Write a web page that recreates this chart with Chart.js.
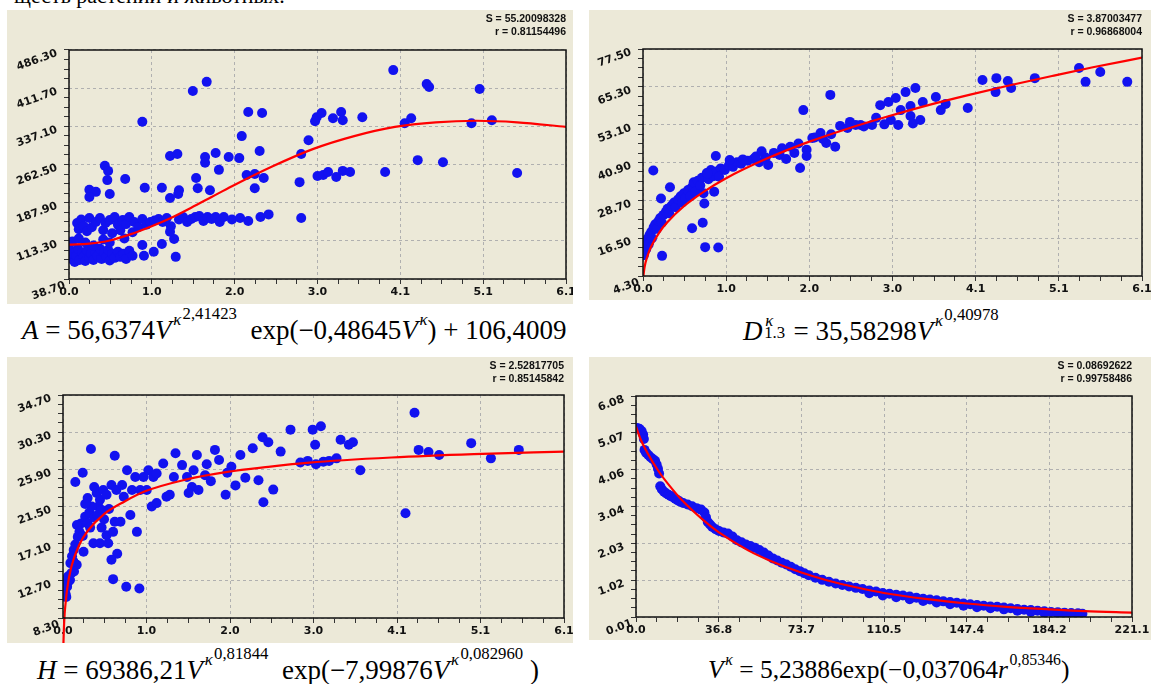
<!DOCTYPE html>
<html>
<head>
<meta charset="utf-8">
<script src="https://cdn.jsdelivr.net/npm/chart.js@4.4.1/dist/chart.umd.min.js"></script>
<style>
  body { margin: 0; width: 1152px; height: 684px; background: #fff; position: relative; overflow: hidden; }
  .panel { position: absolute; background: #ece9d8; }
  .panel canvas { position: absolute; left: 0; top: 0; }
  .stat { position: absolute; top: 2px; text-align: right; font: bold 10.5px/13px 'Liberation Sans', Arial, sans-serif; color: #111; }
  .eq { position: absolute; white-space: nowrap; font: 27px/27px 'Liberation Serif', 'Times New Roman', serif; color: #000; }
  .eq .sp { font-size: 62%; position: relative; top: -0.85em; margin-left: 0.1em; }
  .eq .sp2 { position: relative; top: -0.35em; margin-left: 0.08em; }
  .eq .ss { display: inline-block; position: relative; width: 0.9em; height: 1em; }
  .eq .ss .u { position: absolute; left: 0.16em; top: -0.02em; font-size: 62%; line-height: 1; }
  .eq .ss .d { position: absolute; left: 0.1em; top: 0.72em; font-size: 62%; line-height: 1; }
  #topline { position: absolute; left: 14px; top: -16px; font: 22px/24px 'Liberation Serif', 'Times New Roman', serif; color: #000; white-space: nowrap; }
</style>
</head>
<body>
<div id="topline">щесть растений и животных.</div>

<div class="panel" style="left:7px;top:10px;width:566px;height:294px">
  <canvas id="cA" width="566" height="294"></canvas>
  <div class="stat" style="right:7px"><div>S = 55.20098328</div><div>r = 0.81154496</div></div>
</div>
<div class="panel" style="left:589px;top:10px;width:562px;height:290px">
  <canvas id="cB" width="562" height="290"></canvas>
  <div class="stat" style="right:9px"><div>S = 3.87003477</div><div>r = 0.96868004</div></div>
</div>
<div class="panel" style="left:7px;top:357px;width:566px;height:286px">
  <canvas id="cC" width="566" height="286"></canvas>
  <div class="stat" style="right:9px"><div>S = 2.52817705</div><div>r = 0.85145842</div></div>
</div>
<div class="panel" style="left:589px;top:357px;width:562px;height:283px">
  <canvas id="cD" width="562" height="283"></canvas>
  <div class="stat" style="right:19px"><div>S = 0.08692622</div><div>r = 0.99758486</div></div>
</div>

<div class="eq" style="left:22px;top:317px"><i>A</i> = 56,6374<i>V</i><span class="sp"><i>κ</i><span class="sp2">2,41423</span></span>&nbsp; exp(−0,48645<i>V</i><span class="sp"><i>κ</i></span>) + 106,4009</div>
<div class="eq" style="left:743px;top:313px"><i>D</i><span class="ss"><i class="u">κ</i><span class="d">1.3</span></span> = 35,58298<i>V</i><span class="sp"><i>κ</i><span class="sp2">0,40978</span></span></div>
<div class="eq" style="left:37px;top:657px"><i>H</i> = 69386,21<i>V</i><span class="sp"><i>κ</i><span class="sp2">0,81844</span></span>&nbsp; exp(−7,99876<i>V</i><span class="sp"><i>κ</i><span class="sp2">0,082960</span></span>&nbsp;)</div>
<div class="eq" style="left:708px;top:656px;font-size:25.5px"><i>V</i><span class="sp"><i>κ</i></span> = 5,23886exp(−0,037064<i>r</i><span class="sp">0,85346</span>)</div>

<script>
// оси: подписи делений
const xTicksA = ['0.0', '1.0', '2.0', '3.0', '4.1', '5.1', '6.1'];
const yTicksA = ['38.70', '113.30', '187.90', '262.50', '337.10', '411.70', '486.30'];
const xTicksB = ['0.0', '1.0', '2.0', '3.0', '4.1', '5.1', '6.1'];
const yTicksB = ['4.30', '16.50', '28.70', '40.90', '53.10', '65.30', '77.50'];
const xTicksC = ['0.0', '1.0', '2.0', '3.0', '4.1', '5.1', '6.1'];
const yTicksC = ['8.30', '12.70', '17.10', '21.50', '25.90', '30.30', '34.70'];
const xTicksD = ['0.0', '36.8', '73.7', '110.5', '147.4', '184.2', '221.1'];
const yTicksD = ['0.01', '1.02', '2.03', '3.04', '4.06', '5.07', '6.08'];

// A(V) — точки
const pointsA = [
  [0.02,95],[0.03,78],[0.05,88],[0.07,72],[0.09,84],[0.11,98],[0.13,76],[0.16,90],[0.18,82],[0.2,74],
  [0.22,94],[0.25,80],[0.27,88],[0.3,76],[0.32,92],[0.35,84],[0.38,98],[0.4,78],[0.43,90],[0.46,82],
  [0.48,96],[0.5,75],[0.53,88],[0.56,80],[0.6,92],[0.63,82],[0.67,88],[0.7,78],[0.74,94],[0.78,84],
  [0.92,84],[1.04,92],[1.14,107],[1.31,82],
  [0.04,112],[0.12,118],[0.2,110],[0.3,104],[0.42,116],[0.5,110],[0.68,118],[0.9,105],[1.29,117],[1.24,131],
  [0.1,148],[0.12,136],[0.15,155],[0.18,142],[0.22,132],[0.25,158],[0.28,140],[0.33,150],[0.38,158],[0.42,134],
  [0.45,148],[0.5,154],[0.53,128],[0.56,160],[0.6,145],[0.63,134],[0.66,154],[0.7,146],[0.74,160],[0.78,130],
  [0.8,150],[0.85,140],[0.9,156],[0.95,145],[1.0,150],[1.05,153],[1.1,156],[1.15,150],[1.2,158],[1.25,142],
  [1.35,155],[1.4,160],[1.45,150],[1.5,156],[1.55,160],[1.6,162],[1.65,152],[1.7,160],[1.75,156],[1.8,160],
  [1.85,150],[1.9,160],[2.0,155],[2.1,158],[2.2,152],[2.35,160],[2.45,165],
  [0.9,346],[1.24,279],[0.44,260],[0.48,250],[0.47,232],[0.69,234],[0.25,213],[0.33,209],[0.25,199],[0.5,205],
  [0.93,217],[1.14,217],[1.24,197],[1.34,205],[1.56,236],
  [1.69,424],[1.52,406],[2.2,365],[2.37,363],[2.12,318],[2.34,289],[1.67,277],[1.8,285],[1.96,277],[2.09,275],
  [1.33,283],[1.67,266],[1.84,252],[2.18,242],[2.28,244],[1.58,216],[1.35,212],[1.73,212],[2.28,216],[2.39,236],
  [2.83,228],[2.85,283],[2.85,158],[2.94,310],
  [3.04,355],[3.1,363],[3.02,347],[3.24,353],[3.36,349],[3.34,365],[3.6,355],[3.05,240],[3.12,242],[3.18,248],
  [3.28,238],[3.36,250],[3.45,248],[3.88,248],[3.98,447],[4.12,343],[4.28,271],[4.39,420],[4.42,414],[4.2,353],
  [4.59,267],[4.94,343],[5.04,410],[5.19,349],[5.5,246]
];
// A(V) — кривая
const curveA = [
  [0,106],[0.25,108],[0.5,114],[0.75,126],[1,141],[1.25,158],[1.5,178],[1.75,199],[2,220],[2.5,259],
  [3,293],[3.5,318],[4,336],[4.5,345],[5,348],[5.5,345],[6.1,336]
];

// D1.3(V)
const pointsB = [
  [0.01,11],[0.02,12.5],[0.03,14],[0.04,13],[0.05,15.5],[0.06,16.5],[0.07,14.5],[0.08,17.5],[0.1,18.5],[0.11,16.5],
  [0.13,20],[0.15,21],[0.17,19.5],[0.19,22],[0.21,23],[0.23,21.5],[0.25,24],[0.28,25],[0.3,26],[0.32,24.5],
  [0.35,27],[0.38,28],[0.4,26.5],[0.43,29],[0.46,30],[0.48,28],[0.5,31],[0.52,29.5],[0.55,32],[0.58,30],
  [0.6,33],[0.62,34.5],[0.64,31.5],[0.67,35],[0.7,33.5],[0.72,36],[0.74,31],[0.78,37.5],[0.8,35.5],[0.83,38.5],
  [0.86,36.5],[0.9,38],[0.95,39],[1.0,38.5],[1.05,40],[1.1,39.5],[1.15,41],[1.2,40.5],[1.28,41.5],[1.35,42],
  [1.42,41],[1.5,42.5],
  [0.126,38.3],[0.233,10.8],[0.22,29.3],[0.33,32.9],[0.6,19.7],[0.73,21.5],[0.76,13.6],[0.92,13.5],[0.89,43],[1.06,41.7],
  [1.22,41.9],[1.38,42.8],[0.79,37.4],[0.93,36.3],[0.87,31.5],[0.75,27.7],
  [1.67,43.3],[1.53,40.1],[1.92,39.1],[1.96,57.8],[2.29,62.7],[2.17,50.4],[2.24,47.2],[2.07,48.8],[2.41,52.7],[2.53,54],
  [2.66,53],[2.85,55.3],[2.9,59.4],[3.0,60.4],[3.09,61.7],[3.15,57.8],[3.27,59.1],[3.21,63.6],[3.33,64.9],[3.42,60.4],
  [3.58,62],[3.27,55.9],[3.03,54.6],[2.8,53],[2.7,52.5],[2.6,53],[2.95,53.2],[3.12,53],[3.3,53.5],[3.39,54.6],
  [3.97,58.5],[4.15,67.5],[4.32,68.1],[4.46,67.2],[4.31,63.6],[4.5,64.9],[4.79,68.1],[5.33,71.4],[5.59,70.1],[5.41,66.9],
  [5.92,66.9],[3.64,57.8],[3.7,59.8],
  [1.6,44],[1.7,45.5],[1.8,46],[1.9,47],[2.0,45],[2.1,49],[2.2,48.5],[2.3,50],[2.5,52],[1.75,42],
  [2.0,43],[1.45,44.5],[1.85,44],[2.35,46]
];
const curveB = [
  [0.005,4.3],[0.01,5.4],[0.02,7.3],[0.05,10.4],[0.1,13.8],[0.2,18.4],[0.3,21.7],[0.5,26.8],[0.75,31.6],[1,35.6],
  [1.5,42.0],[2,47.3],[2.5,51.8],[3,55.8],[3.5,59.5],[4,62.8],[4.5,65.9],[5,68.8],[5.5,71.6],[6.1,74.7]
];

// H(V)
const pointsC = [
  [0.04,10.8],[0.03,11.2],[0.05,12.0],[0.065,12.6],[0.085,12.8],[0.1,13.6],[0.134,13.8],[0.167,14.6],[0.126,15.0],[0.13,16.35],
  [0.25,16.15],[0.18,17.9],[0.22,19.5],[0.17,19.3],[0.27,20.3],[0.02,12.5],[0.06,13.2],[0.09,14.8],[0.11,15.6],[0.15,17],
  [0.2,18.5],[0.24,18],[0.3,19.5],[0.32,20.8],[0.38,20.2],[0.43,21.5],
  [0.34,28.3],[0.63,27.5],[0.24,25.5],[0.15,24.4],[0.78,25.8],[0.9,18.5],[0.61,12.9],[0.77,12.0],[0.93,11.8],[0.66,15.9],
  [0.59,15.2],
  [0.35,21.5],[0.41,23.1],[0.45,22.3],[0.49,23.45],[0.53,22.9],[0.47,21.1],[0.37,17.15],[0.45,17.15],[0.55,17.15],[0.53,18.1],
  [0.61,18.5],[0.63,19.7],[0.7,19.7],[0.59,24.05],[0.65,23.45],[0.72,24.05],[0.74,22.65],[0.82,20.5],[0.84,23.45],[0.88,25.0],
  [0.94,23.45],[1.02,23.45],[0.98,25.0],[1.04,25.8],[1.1,25.0],[1.14,25.4],[1.22,26.6],[1.08,21.5],[1.14,21.9],[1.26,22.65],
  [1.3,22.9],[1.35,25.0],[1.45,26.4],[1.51,25.0],[1.37,27.8],[1.59,25.8],[1.57,23.8],[1.53,23.1],[1.63,27.6],
  [0.3,22.5],[0.38,23.8],[0.42,20.5],[0.5,20],[0.56,21.2],[0.33,19],[0.27,21.8],[0.47,19],
  [1.85,28.2],[2.44,22.0],[2.77,30.6],[3.04,30.6],[3.14,31.0],[3.07,28.8],[3.38,29.4],[3.48,28.8],[3.53,29.1],[2.89,26.7],
  [2.98,26.9],[3.08,26.5],[3.17,26.8],[3.24,26.9],[3.33,27.2],[3.62,25.8],[4.17,20.7],[4.28,32.6],[4.33,28.2],[4.45,27.95],
  [4.58,27.6],[4.97,29.0],[5.21,27.2],[5.55,28.2],[1.73,25.2],[2.22,24.9],[1.65,23.45],[1.98,22.9],[2.16,27.6],[2.31,28.4],
  [2.5,29.1],[2.65,28.0],[2.38,24.6],[2.56,23.5],[2.43,29.7],[1.75,26.5],[1.9,27],[2.05,26.2],[2.0,25.5],[1.8,24.5],
  [2.1,24]
];
const curveC = [
  [0.005,5.2],[0.01,6.8],[0.02,8.8],[0.03,9.9],[0.05,11.7],[0.1,14.3],[0.2,17.0],[0.3,18.6],[0.5,20.6],[0.75,22.1],
  [1,23.3],[1.5,24.7],[2,25.6],[2.5,26.2],[3,26.7],[4,27.3],[5,27.7],[6.1,28.0]
];

// V(r)
const pointsD = [
  [0.5,5.2],[1.5,5.18],[2.5,5.12],[3.2,5.02],[3.5,4.9],[3.8,4.6],[4.5,4.52],[5.5,4.46],[6.5,4.4],[7.5,4.35],
  [8.5,4.3],[9.2,4.2],[9.8,4.08],[10.3,3.95],[10.8,3.6],[11.5,3.52],[12.5,3.45],[13.5,3.4],[14.5,3.37],[15.5,3.33],
  [16.5,3.3],[17.5,3.26],[18.5,3.22],[19.5,3.18],[21,3.14],[23,3.1],[25,3.05],[27,3.0],[29,2.96],[30.5,2.88],
  [31.2,2.75],[32,2.62],[33,2.55],[34,2.48],[35.5,2.42],[37,2.37],[39,2.33],[41,2.3],[43,2.22],[45,2.12],
  [47,2.06],[49,2.0],[51,1.96],[53,1.91],[55,1.85],[57,1.78],[59,1.7],[61,1.62],[63,1.56],[65,1.5],
  [67,1.45],[69,1.39],[71,1.32],[73,1.27],[75,1.21],[77,1.16],[80,1.09],[83,1.03],[86,0.98],[89,0.93],
  [92,0.89],[95,0.85],[98,0.81],[101,0.78],[104,0.74],[107,0.71],[110,0.67],[113,0.65],[116,0.62],[119,0.6],
  [122,0.57],[125,0.54],[128,0.51],[131,0.49],[134,0.47],[137,0.44],[140,0.42],[143,0.4],[146,0.38],[149,0.36],
  [152,0.34],[155,0.32],[158,0.3],[161,0.29],[164,0.27],[167,0.25],[170,0.23],[173,0.21],[176,0.2],[179,0.18],
  [182,0.17],[185,0.15],[188,0.14],[191,0.13],[194,0.12],[197,0.11],[199,0.1],
  [104,0.66],[110,0.6],[116,0.55],[122,0.5],[128,0.45],[134,0.41],[140,0.36],[146,0.32],[152,0.28],[158,0.25],
  [164,0.22],[170,0.18],[176,0.15],[182,0.12],[188,0.09],[194,0.07],[198,0.06]
];
const curveD = [
  [0,5.24],[2,4.9],[5,4.53],[10,4.02],[15,3.61],[20,3.25],[30,2.67],[36.8,2.34],[50,1.84],[60,1.55],
  [73.7,1.23],[85,1.02],[100,0.8],[110.5,0.67],[130,0.5],[147.4,0.38],[165,0.29],[184.2,0.22],[200,0.17],[221.1,0.13]
];

const tickFont = { family: "'DejaVu Sans', Verdana, sans-serif", size: 11, weight: 'bold' };
const SLANT = 20 * Math.PI / 180;

// рамка вокруг области построения + наклонные подписи оси Y (по символам)
const framePlugin = {
  id: 'frame',
  afterDraw(chart) {
    const { ctx, chartArea: a } = chart;
    ctx.save();
    ctx.strokeStyle = '#111';
    ctx.lineWidth = 1.5;
    ctx.strokeRect(a.left, a.top, a.right - a.left, a.bottom - a.top);
    ctx.restore();

    const labels = chart.options.plugins.frame.yLabels;
    const ys = chart.scales.y;
    const lo = parseFloat(labels[0]);
    const hi = parseFloat(labels[labels.length - 1]);
    const c = Math.cos(SLANT), s = Math.sin(SLANT);
    ctx.save();
    ctx.font = "bold 11px 'DejaVu Sans', Verdana, sans-serif";
    ctx.fillStyle = '#111';
    ctx.textAlign = 'center';
    ctx.textBaseline = 'middle';
    labels.forEach((t, k) => {
      const py = ys.getPixelForValue(lo + (hi - lo) * k / (labels.length - 1));
      const ax = a.left + (k === 0 ? -4 : -12);
      const ay = py + (k === 0 ? 6 : 3);
      const W = ctx.measureText(t).width;
      let d = 0;
      for (const ch of t) {
        const w = ctx.measureText(ch).width;
        const dist = W - (d + w / 2);
        ctx.save();
        ctx.translate(ax - dist * c, ay + dist * s);
        ctx.rotate(-SLANT);
        ctx.fillText(ch, 0, 0);
        ctx.restore();
        d += w;
      }
    });
    ctx.restore();
  }
};

function axis(labels, isY, size) {
  const lo = parseFloat(labels[0]);
  const hi = parseFloat(labels[labels.length - 1]);
  const steps = (labels.length - 1) * 4; // 3 мелких деления между крупными
  return {
    type: 'linear',
    position: isY ? 'left' : 'bottom',
    min: lo,
    max: hi,
    afterBuildTicks: s => {
      s.ticks = [];
      for (let i = 0; i <= steps; i++) s.ticks.push({ value: lo + (hi - lo) * i / steps });
    },
    afterFit: s => {
      if (isY) { s.width = size; s.paddingTop = 0; s.paddingBottom = 0; }
      else { s.height = size; s.paddingLeft = 0; s.paddingRight = 0; }
    },
    ticks: {
      autoSkip: false,
      color: '#111',
      font: tickFont,
      padding: 2,
      maxRotation: 0,
      callback: (v, i) => (isY ? '' : (i % 4 === 0 ? labels[i / 4] : ''))
    },
    grid: {
      color: c => (c.index % 4 === 0 ? '#b0b0b0' : 'rgba(0,0,0,0)'),
      tickColor: '#333',
      tickLength: 5,
      lineWidth: 1
    },
    border: { display: false, dash: [3, 3] }
  };
}

function makePanel(id, xTicks, yTicks, points, curve, box, curveClip) {
  new Chart(document.getElementById(id), {
    type: 'scatter',
    data: {
      datasets: [
        {
          data: curve.map(p => ({ x: p[0], y: p[1] })),
          showLine: true,
          borderColor: '#ff0000',
          borderWidth: 2.2,
          pointRadius: 0,
          cubicInterpolationMode: 'monotone',
          clip: curveClip
        },
        {
          data: points.map(p => ({ x: p[0], y: p[1] })),
          backgroundColor: '#1212f0',
          borderWidth: 0,
          pointRadius: 5
        }
      ]
    },
    options: {
      responsive: false,
      animation: false,
      events: [],
      layout: { padding: { left: 0, top: box.top, right: box.right, bottom: 0 } },
      plugins: { legend: { display: false }, tooltip: { enabled: false }, frame: { yLabels: yTicks } },
      scales: {
        x: axis(xTicks, false, box.xh),
        y: axis(yTicks, true, box.yw)
      }
    },
    plugins: [framePlugin]
  });
}

makePanel('cA', xTicksA, yTicksA, pointsA, curveA, { top: 40, right: 7, xh: 25, yw: 62 }, undefined);
makePanel('cB', xTicksB, yTicksB, pointsB, curveB, { top: 39, right: 9, xh: 24, yw: 54 }, undefined);
makePanel('cC', xTicksC, yTicksC, pointsC, curveC, { top: 38, right: 9, xh: 25, yw: 56 }, false);
makePanel('cD', xTicksD, yTicksD, pointsD, curveD, { top: 39, right: 19, xh: 23, yw: 47 }, undefined);
</script>
</body>
</html>
